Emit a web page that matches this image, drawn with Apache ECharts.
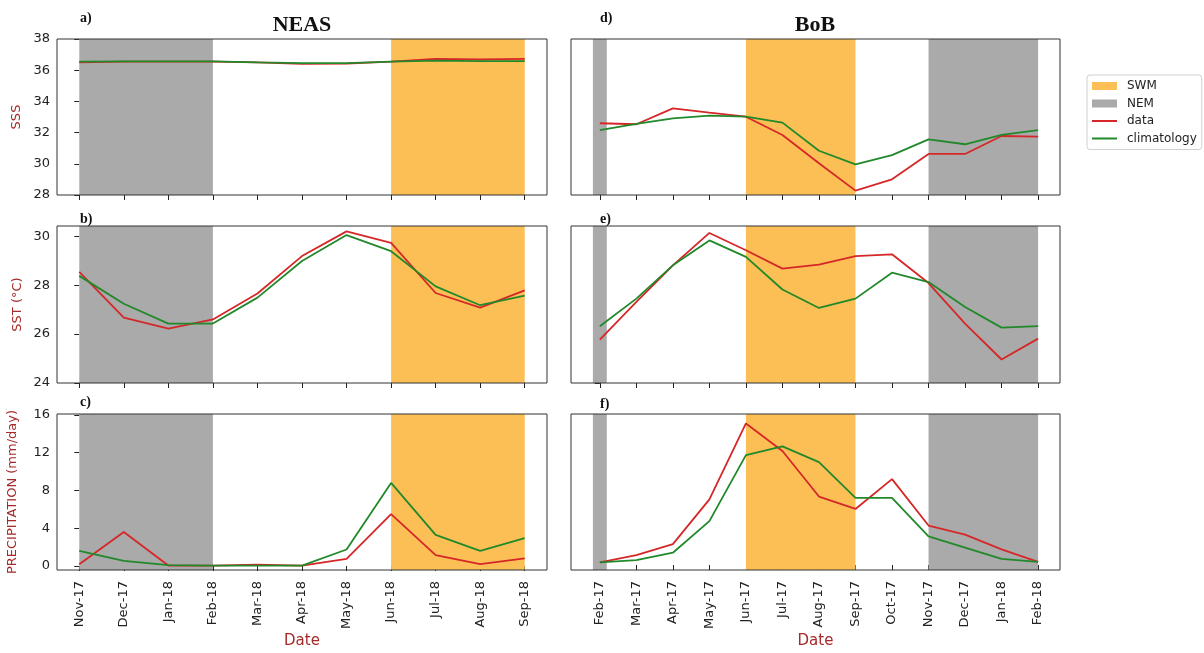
<!DOCTYPE html>
<html>
<head>
<meta charset="utf-8">
<script src="https://cdn.jsdelivr.net/npm/echarts@6/dist/echarts.min.js"></script>
<style>
  html, body { margin: 0; padding: 0; background: #fff; }
  #main { width: 1204px; height: 653px; }
</style>
</head>
<body>
<div id="main"></div>
<script>
// months on each side
var neasMonths = ['Nov-17', 'Dec-17', 'Jan-18', 'Feb-18', 'Mar-18', 'Apr-18', 'May-18', 'Jun-18', 'Jul-18', 'Aug-18', 'Sep-18']
var bobMonths = ['Feb-17', 'Mar-17', 'Apr-17', 'May-17', 'Jun-17', 'Jul-17', 'Aug-17', 'Sep-17', 'Oct-17', 'Nov-17', 'Dec-17', 'Jan-18', 'Feb-18']

// y tick values
var sssTicks = [28, 30, 32, 34, 36, 38]
var sstTicks = [24, 26, 28, 30]
var precipTicks = [0, 4, 8, 12, 16]

// NEAS
var neasSssData = [36.5, 36.55, 36.55, 36.55, 36.5, 36.4, 36.42, 36.55, 36.72, 36.7, 36.72]
var neasSssClim = [36.55, 36.56, 36.56, 36.56, 36.5, 36.45, 36.45, 36.55, 36.62, 36.58, 36.58]
var neasSstData = [28.54, 26.67, 26.22, 26.6, 27.66, 29.19, 30.2, 29.73, 27.68, 27.08, 27.79]
var neasSstClim = [28.38, 27.24, 26.43, 26.43, 27.49, 28.99, 30.05, 29.39, 27.95, 27.18, 27.57]
var neasPrecipData = [0.2, 3.6, 0.05, 0.05, 0.15, 0.05, 0.75, 5.5, 1.15, 0.2, 0.8]
var neasPrecipClim = [1.6, 0.55, 0.1, 0.05, 0.05, 0.05, 1.75, 8.8, 3.3, 1.6, 2.95]

// BoB
var bobSssData = [32.19, 32.12, 33.22, 32.92, 32.64, 31.38, 29.43, 27.54, 28.32, 30.07, 30.07, 31.31, 31.26]
var bobSssClim = [31.72, 32.14, 32.53, 32.71, 32.64, 32.23, 30.29, 29.35, 29.99, 31.08, 30.74, 31.38, 31.72]
var bobSstData = [25.81, 27.38, 28.91, 30.26, 29.54, 28.77, 28.94, 29.29, 29.37, 28.17, 26.48, 24.98, 25.85]
var bobSstClim = [26.37, 27.52, 28.91, 29.95, 29.26, 27.9, 27.13, 27.52, 28.6, 28.21, 27.17, 26.31, 26.37]
var bobPrecipData = [0.29, 1.08, 2.28, 7.15, 15.4, 12.4, 7.45, 6.1, 9.35, 4.3, 3.3, 1.7, 0.35]
var bobPrecipClim = [0.29, 0.54, 1.34, 4.77, 11.95, 12.9, 11.2, 7.3, 7.3, 3.12, 1.9, 0.68, 0.35]

// monsoon periods (month index)
var neasNem = [[0, 3]]
var neasSwm = [[7, 10]]
var bobNem = [[-0.19, 0.19], [9, 12]]
var bobSwm = [[4, 7]]

var RED = '#d62728'
var GREEN = '#21892a'
var ORANGE = '#fbbf56'
var GRAY = '#aaaaaa'
var LABEL = '#a52a2a'
var FONT = 'DejaVu Sans'

var rows = [{top: 39, height: 156}, {top: 226, height: 157}, {top: 414, height: 156}]
var cols = [{left: 57, width: 490}, {left: 571, width: 489}]

var panels = [
  {col: 0, row: 0, months: neasMonths, ymin: 28, ymax: 38, ticks: sssTicks, name: 'SSS', gap: 34, d: neasSssData, c: neasSssClim, nem: neasNem, swm: neasSwm},
  {col: 0, row: 1, months: neasMonths, ymin: 24, ymax: 30.42, ticks: sstTicks, name: 'SST (°C)', gap: 33, d: neasSstData, c: neasSstClim, nem: neasNem, swm: neasSwm},
  {col: 0, row: 2, months: neasMonths, ymin: -0.42, ymax: 16.1, ticks: precipTicks, name: 'PRECIPITATION (mm/day)', gap: 38, d: neasPrecipData, c: neasPrecipClim, nem: neasNem, swm: neasSwm},
  {col: 1, row: 0, months: bobMonths, ymin: 27.24, ymax: 38, ticks: sssTicks, d: bobSssData, c: bobSssClim, nem: bobNem, swm: bobSwm},
  {col: 1, row: 1, months: bobMonths, ymin: 24, ymax: 30.55, ticks: sstTicks, d: bobSstData, c: bobSstClim, nem: bobNem, swm: bobSwm},
  {col: 1, row: 2, months: bobMonths, ymin: -0.54, ymax: 16.43, ticks: precipTicks, d: bobPrecipData, c: bobPrecipClim, nem: bobNem, swm: bobSwm}
]

function toPairs (arr) {
  return arr.map(function (v, i) { return [i, v] })
}
function idx (arr) {
  return arr.map(function (v, i) { return i })
}
function bands (list) {
  return list.map(function (b) { return [{xAxis: b[0]}, {xAxis: b[1]}] })
}

var grid = []
var xAxis = []
var yAxis = []
var series = []

panels.forEach(function (p, i) {
  var c = cols[p.col]
  var r = rows[p.row]
  var bottom = p.row === 2
  grid.push({
    left: c.left, top: r.top, width: c.width, height: r.height,
    show: true, borderColor: '#333', borderWidth: 1, backgroundColor: 'transparent', z: 5
  })
  xAxis.push({
    type: 'value', gridIndex: i,
    min: p.col === 0 ? -0.5 : -0.79,
    max: p.col === 0 ? 10.5 : 12.6,
    axisLine: {show: false},
    splitLine: {show: false},
    axisTick: {show: true, length: 5, customValues: idx(p.months), lineStyle: {color: '#222'}},
    axisLabel: {
      show: bottom, rotate: 90, margin: 11, customValues: idx(p.months),
      fontFamily: FONT, fontSize: 13, color: '#222',
      formatter: function (v) { return p.months[Math.round(v)] }
    },
    name: bottom ? 'Date' : '',
    nameLocation: 'middle', nameGap: 64,
    nameTextStyle: {fontFamily: FONT, fontSize: 15, color: LABEL}
  })
  yAxis.push({
    type: 'value', gridIndex: i, min: p.ymin, max: p.ymax,
    axisLine: {show: false},
    splitLine: {show: false},
    axisTick: {show: true, length: 5, customValues: p.ticks, lineStyle: {color: '#222'}},
    axisLabel: {show: p.col === 0, customValues: p.ticks, margin: 7, fontFamily: FONT, fontSize: 13, color: '#222'},
    name: p.name || '',
    nameLocation: 'middle', nameGap: p.gap || 30,
    nameTextStyle: {fontFamily: FONT, fontSize: 13, color: LABEL}
  })
  series.push({
    name: 'SWM', type: 'line', xAxisIndex: i, yAxisIndex: i, data: [],
    itemStyle: {color: ORANGE}, lineStyle: {color: ORANGE}, symbol: 'none', silent: true,
    markArea: {silent: true, itemStyle: {color: ORANGE}, data: bands(p.swm)}
  })
  series.push({
    name: 'NEM', type: 'line', xAxisIndex: i, yAxisIndex: i, data: [],
    itemStyle: {color: GRAY}, lineStyle: {color: GRAY}, symbol: 'none', silent: true,
    markArea: {silent: true, itemStyle: {color: GRAY}, data: bands(p.nem)}
  })
  series.push({
    name: 'data', type: 'line', xAxisIndex: i, yAxisIndex: i, data: toPairs(p.d),
    symbol: 'none', itemStyle: {color: RED}, lineStyle: {color: RED, width: 1.8}, z: 3
  })
  series.push({
    name: 'climatology', type: 'line', xAxisIndex: i, yAxisIndex: i, data: toPairs(p.c),
    symbol: 'none', itemStyle: {color: GREEN}, lineStyle: {color: GREEN, width: 1.8}, z: 4
  })
})

var serif = '"Liberation Serif", "DejaVu Serif", serif'
function txt (x, y, s, size, align) {
  return {
    type: 'text', x: x, y: y, z: 10,
    style: {text: s, font: 'bold ' + size + 'px ' + serif, fill: '#111', align: align, verticalAlign: 'middle'}
  }
}

var lineIcon = 'path://M0,0H25V2H0Z'

var myChart = echarts.init(document.getElementById('main'))
myChart.setOption({
  animation: false,
  backgroundColor: '#fff',
  grid: grid,
  xAxis: xAxis,
  yAxis: yAxis,
  series: series,
  legend: {
    orient: 'vertical', left: 1087, top: 75,
    padding: [5, 5, 5, 5], itemGap: 5.5, itemWidth: 25, itemHeight: 8,
    backgroundColor: '#fff', borderColor: '#d0d0d0', borderWidth: 1, borderRadius: 3,
    selectedMode: false,
    textStyle: {fontFamily: FONT, fontSize: 12, color: '#222', padding: [0, 0, 0, 5]},
    data: [
      {name: 'SWM', icon: 'rect'},
      {name: 'NEM', icon: 'rect'},
      {name: 'data', icon: lineIcon},
      {name: 'climatology', icon: lineIcon}
    ]
  },
  graphic: [
    txt(302, 25, 'NEAS', 22, 'center'),
    txt(815, 25, 'BoB', 22, 'center'),
    txt(80, 18, 'a)', 14, 'left'),
    txt(80, 219, 'b)', 14, 'left'),
    txt(80, 402, 'c)', 14, 'left'),
    txt(600, 18, 'd)', 14, 'left'),
    txt(600, 219, 'e)', 14, 'left'),
    txt(600, 404, 'f)', 14, 'left')
  ]
})
</script>
</body>
</html>
